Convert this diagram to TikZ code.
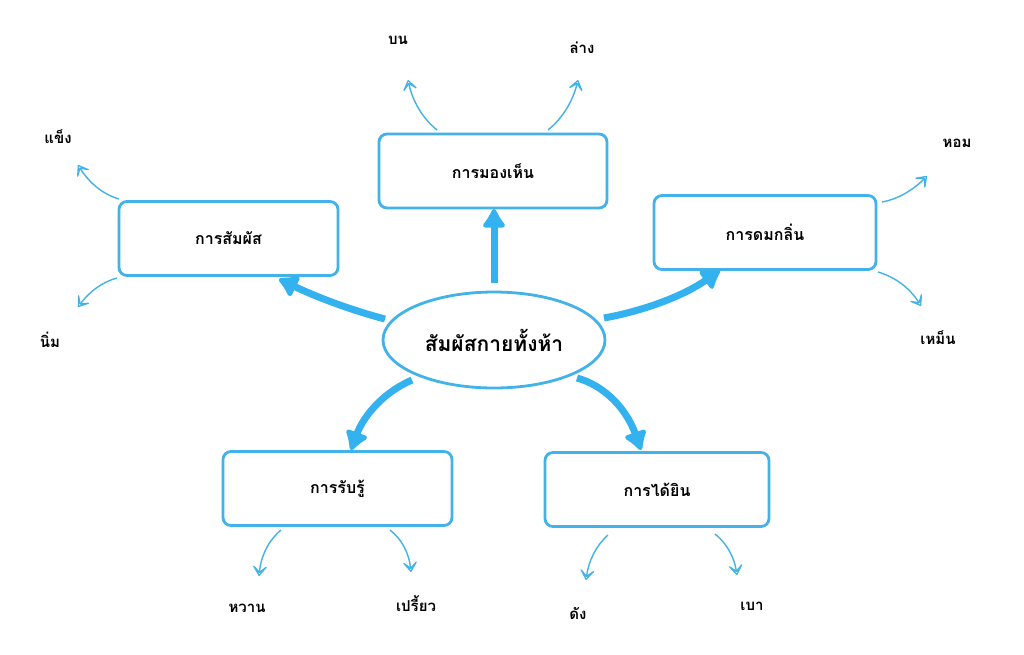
\documentclass[tikz,border=0pt]{standalone}
\usepackage{fontspec}
\setmainfont[Script=Thai]{Loma}
\usetikzlibrary{arrows.meta,shapes.geometric}
\definecolor{sky}{RGB}{66,178,232}
\definecolor{skyarrow}{RGB}{52,178,240}
\tikzset{
  box/.style={draw=sky,line width=2.8pt,rounded corners=8pt,minimum width=#1,minimum height=74pt,font=\bfseries\fontsize{16}{18}\selectfont,inner sep=0pt},
  hub/.style={ellipse,draw=sky,line width=2.8pt,minimum width=222pt,minimum height=96pt,font=\bfseries\fontsize{21}{24}\selectfont},
  big/.style={draw=skyarrow,line width=7pt,-{Latex[length=22pt,width=28pt,round]}},
  thin/.style={draw=sky,line width=1.4pt,-{Stealth[open,length=14pt,width=20pt,inset=9pt,line width=1.4pt,round]}},
  leaf/.style={font=\bfseries\fontsize{15}{17}\selectfont,inner sep=1pt}
}
\begin{document}
\begin{tikzpicture}[x=1pt,y=-1pt]
\useasboundingbox (0,0) rectangle (1024,654);
\fill[white] (0,0) rectangle (1024,654);
\node[hub] (c) at (494,340) {สัมผัสกายทั้งห้า};
\node[box=228pt] (see) at (493,171) {การมองเห็น};
\node[box=219pt] (touch) at (228.5,238.5) {การสัมผัส};
\node[box=222pt] (smell) at (765,232.5) {การดมกลิ่น};
\node[box=229pt] (taste) at (337.5,488.5) {การรับรู้};
\node[box=224pt] (hear) at (657,489.5) {การได้ยิน};
% leaf labels
\node[leaf] (up) at (398,40) {บน};
\node[leaf] (down) at (582,48) {ล่าง};
\node[leaf] (hard) at (58,137) {แข็ง};
\node[leaf] (soft) at (50,340) {นิ่ม};
\node[leaf] (frag) at (957,143) {หอม};
\node[leaf] (stink) at (938,338) {เหม็น};
\node[leaf] (sweet) at (247,608) {หวาน};
\node[leaf] (sour) at (416,604) {เปรี้ยว};
\node[leaf] (loud) at (578,613) {ดัง};
\node[leaf] (soft2) at (752,606) {เบา};
% free ends of thin arrows
\coordinate (s1) at (437,130); \coordinate (e1) at (408,80);
\coordinate (s2) at (548,130); \coordinate (e2) at (578,80);
\coordinate (s3) at (119,199); \coordinate (e3) at (78,165);
\coordinate (s4) at (117,278); \coordinate (e4) at (78,307);
\coordinate (s5) at (882,202); \coordinate (e5) at (927,176);
\coordinate (s6) at (878,272); \coordinate (e6) at (921,306);
\coordinate (s7) at (281,530); \coordinate (e7) at (259,576);
\coordinate (s8) at (390,530); \coordinate (e8) at (411,572);
\coordinate (s9) at (608,535); \coordinate (e9) at (586,580);
\coordinate (s10) at (715,534); \coordinate (e10) at (737,575);
\draw[thin] (s1) .. controls (422.3,118) and (412.7,101.3) .. (e1);
\draw[thin] (s2) .. controls (562.7,118) and (572.7,101.3) .. (e2);
\draw[thin] (s3) .. controls (103,194.3) and (89.3,183) .. (e3);
\draw[thin] (s4) .. controls (102.3,282) and (89.3,291.7) .. (e4);
\draw[thin] (s5) .. controls (897.3,199.3) and (912.3,190.7) .. (e5);
\draw[thin] (s6) .. controls (896,277.3) and (910.3,288.7) .. (e6);
\draw[thin] (s7) .. controls (268.3,540.7) and (261,556) .. (e7);
\draw[thin] (s8) .. controls (402,539.3) and (409,553.3) .. (e8);
\draw[thin] (s9) .. controls (596,545.7) and (588.7,560.7) .. (e9);
\draw[thin] (s10) .. controls (727,543.3) and (734.3,557.7) .. (e10);
% thick arrows
\coordinate (c1) at (494,283); \coordinate (t1) at (494,209);
\coordinate (c2) at (385,319); \coordinate (t2) at (279,279);
\coordinate (c3) at (604,318); \coordinate (t3) at (720,270);
\coordinate (c4) at (412,380); \coordinate (t4) at (351,450);
\coordinate (c5) at (577,378); \coordinate (t5) at (641,450);
\draw[big] (c1) -- (t1);
\draw[big] (c2) .. controls (351.7,310.3) and (316.3,297) .. (t2);
\draw[big] (c3) .. controls (648,310) and (686.7,294) .. (t3);
\draw[big] (c4) .. controls (384,392) and (363.7,415.3) .. (t4);
\draw[big] (c5) .. controls (605.7,386) and (627,410) .. (t5);
\end{tikzpicture}
\end{document}
